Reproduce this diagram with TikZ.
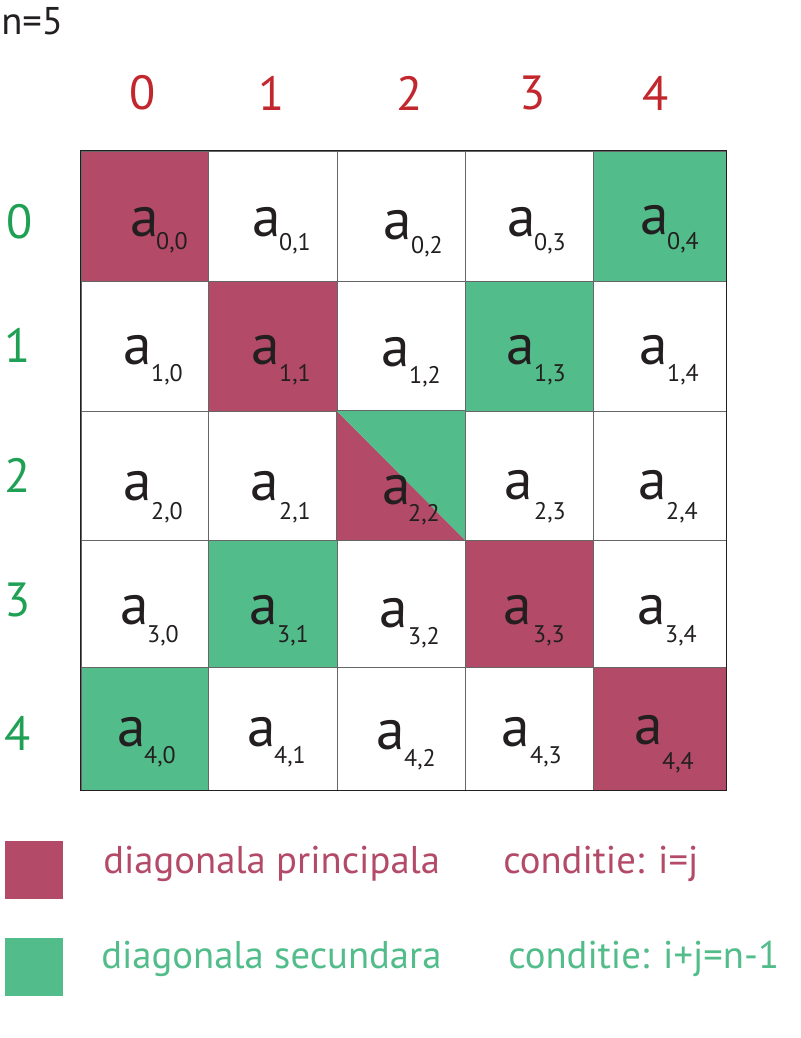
\documentclass[tikz,border=0pt]{standalone}
\usepackage{fontspec}
\setmainfont{PT Sans}
\definecolor{dmain}{HTML}{B34A68}
\definecolor{dsec}{HTML}{52BD8A}
\definecolor{colhd}{HTML}{C1272D}
\definecolor{rowhd}{HTML}{1FA055}
\definecolor{gridc}{HTML}{666666}
\definecolor{ink}{HTML}{231F20}
\tikzset{
  cellbox/.style={rectangle, draw=gridc, line width=0.6pt, inner sep=0pt},
  bigA/.style={text=ink, inner sep=0pt, font=\fontsize{43}{43}\selectfont},
  subtxt/.style={text=ink, inner sep=0pt, font=\fontsize{18}{18}\selectfont},
  colhead/.style={text=colhd, inner sep=0pt, font=\fontsize{36}{36}\selectfont},
  rowhead/.style={text=rowhd, inner sep=0pt, font=\fontsize{36}{36}\selectfont},
  legsq/.style={rectangle, inner sep=0pt, minimum width=43.5pt, minimum height=43.5pt},
  legtxt/.style={inner sep=0pt, anchor=base west, font=\fontsize{29}{29}\selectfont}
}
\begin{document}
\begin{tikzpicture}[x=0.75pt,y=-0.75pt]
\useasboundingbox (0,0) rectangle (800,1038);
% cells
\foreach \i in {0,...,4}{
  \foreach \j in {0,...,4}{
    \pgfmathsetmacro\xa{{81,208,337,465,593,726}[\j]}
    \pgfmathsetmacro\xb{{81,208,337,465,593,726}[\j+1]}
    \pgfmathsetmacro\ya{{151,281,411,540,667,790}[\i]}
    \pgfmathsetmacro\yb{{151,281,411,540,667,790}[\i+1]}
    \pgfmathsetmacro\w{(\xb-\xa)*0.75}
    \pgfmathsetmacro\h{(\yb-\ya)*0.75}
    \pgfmathtruncatemacro\s{\i+\j}
    \def\fc{white}
    \ifnum\i=\j \def\fc{dmain}\fi
    \ifnum\s=4 \def\fc{dsec}\fi
    \ifnum\i=2 \ifnum\j=2 \def\fc{white}\fi\fi
    \node[cellbox, fill=\fc, minimum width=\w pt, minimum height=\h pt]
      (c\i\j) at ({(\xa+\xb)/2},{(\ya+\yb)/2}) {};
  }
}
% split cell 2,2
\fill[dmain] (c22.north west) -- (c22.south west) -- (c22.south east) -- cycle;
\fill[dsec] (c22.north west) -- (c22.north east) -- (c22.south east) -- cycle;
\draw[gridc, line width=0.6pt] (c22.north west) rectangle (c22.south east);
% outer border
\draw[ink, line width=1.2pt] (c00.north west) rectangle (c44.south east);
% entries
\foreach \i/\j/\ax/\ay/\sx/\sy in {
  0/0/145/222/172/243, 0/1/267/222/295/244, 0/2/398/225/427/247, 0/3/522/222/550/244, 0/4/655/220/683/243,
  1/0/138/350/167/375, 1/1/266/350/295/375, 1/2/396/352/425/377, 1/3/521/350/550/375, 1/4/654/350/683/375,
  2/0/138/486/167/513, 2/1/265/486/295/513, 2/2/397/490/424/515, 2/3/519/485/550/513, 2/4/653/485/682/513,
  3/0/135/610/163/636, 3/1/264/610/293/636, 3/2/394/613/424/638, 3/3/518/610/549/636, 3/4/652/610/681/636,
  4/0/132/732/160/757, 4/1/262/732/290/757, 4/2/391/735/420/760, 4/3/516/732/546/757, 4/4/649/730/678/763}{
  \node[bigA] (a\i\j) at (\ax,\ay) {a};
  \node[subtxt] (s\i\j) at (\sx,\sy) {\i,\j};
}
% headers
\node[colhead] (h0) at (143,93) {0};
\node[colhead] (h1) at (272,93) {1};
\node[colhead] (h2) at (410,93) {2};
\node[colhead] (h3) at (533,93) {3};
\node[colhead] (h4) at (656,93) {4};
\node[rowhead] (r0) at (20,222) {0};
\node[rowhead] (r1) at (18,345) {1};
\node[rowhead] (r2) at (18,475) {2};
\node[rowhead] (r3) at (18,600) {3};
\node[rowhead] (r4) at (18,733) {4};
\node[text=ink, inner sep=0pt, anchor=west, font=\fontsize{29}{29}\selectfont] (n) at (1,21) {n=5};
% legend
\node[legsq, fill=dmain] (lm) at (34,870) {};
\node[legsq, fill=dsec] (ls) at (34,967) {};
\node[legtxt, text=dmain] (lmt) at (103,873) {diagonala principala};
\node[legtxt, text=dmain] (lmc) at (503,873) {conditie: i=j};
\node[legtxt, text=dsec] (lst) at (101,968) {diagonala secundara};
\node[legtxt, text=dsec] (lsc) at (508,968) {conditie: i+j=n-1};
\end{tikzpicture}
\end{document}
